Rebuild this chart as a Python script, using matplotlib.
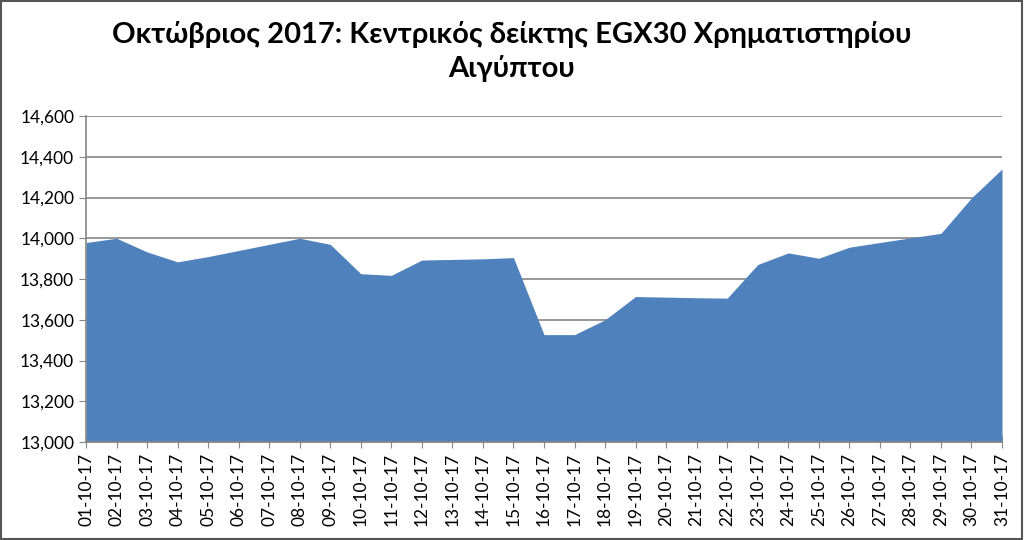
import numpy as np
import matplotlib.pyplot as plt
from matplotlib.patches import Rectangle
from matplotlib.ticker import FuncFormatter

title = 'Οκτώβριος 2017: Κεντρικός δείκτης EGX30 Χρηματιστηρίου\nΑιγύπτου'
dates = ['%02d-10-17' % d for d in range(1, 32)]
egx30 = [13979, 14000, 13933, 13884, 13910, 13940, 13970, 14000, 13970, 13826,
         13818, 13893, 13896, 13899, 13905, 13527, 13527, 13600, 13714, 13711,
         13708, 13706, 13871, 13928, 13902, 13956, 13979, 14002, 14024, 14198,
         14340]

plt.rcParams['font.family'] = ['Lato', 'DejaVu Sans']

fig = plt.figure(figsize=(10.24, 5.4), dpi=100)
ax = fig.add_axes([86 / 1024, 1 - 442 / 540, (1002 - 86) / 1024, (442 - 116) / 540])

x = np.arange(len(dates))
ax.fill_between(x, 13000, egx30, color='#4F81BD', linewidth=0, zorder=2)

ax.set_xlim(0, len(dates) - 1)
ax.set_ylim(13000, 14600)
ax.set_yticks(np.arange(13000, 14601, 200))
ax.yaxis.set_major_formatter(FuncFormatter(lambda v, p: '{:,.0f}'.format(v)))
ax.set_xticks(x)
ax.set_xticklabels(dates, rotation=90)

ax.grid(axis='y', color='#868686', linewidth=1.2, zorder=1)
for s in ['top', 'right']:
    ax.spines[s].set_visible(False)
for s in ['left', 'bottom']:
    ax.spines[s].set_color('#868686')
    ax.spines[s].set_linewidth(1.2)
ax.tick_params(axis='both', colors='#868686', labelcolor='black', labelsize=12.5, length=5)
ax.tick_params(axis='x', direction='inout', length=8)

fig.text(0.5, 0.962, title, ha='center', va='top', fontsize=21, fontweight='bold',
         linespacing=1.35)

fig.patches.append(Rectangle((0.001, 0.002), 0.997, 0.996, transform=fig.transFigure,
                             fill=False, edgecolor='#555555', linewidth=1.5))

plt.savefig('out.png')
